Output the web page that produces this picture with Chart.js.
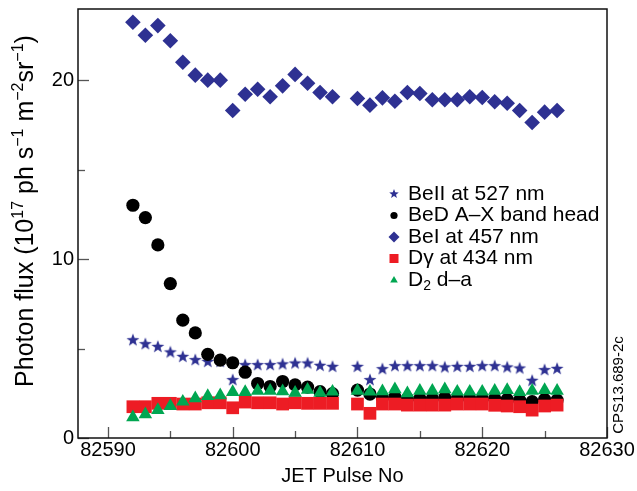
<!DOCTYPE html>
<html>
<head>
<meta charset="utf-8">
<script src="https://cdn.jsdelivr.net/npm/chart.js@4/dist/chart.umd.min.js"></script>
<style>
  html, body { margin: 0; padding: 0; background: #fff; }
  #wrap { width: 637px; height: 491px; }
</style>
</head>
<body>
<div id="wrap"><canvas id="flux-chart" width="637" height="491"></canvas></div>
<script>
// JET pulse numbers (82609 missing)
const pulses = [82592, 82593, 82594, 82595, 82596, 82597, 82598, 82599, 82600, 82601, 82602, 82603, 82604, 82605, 82606, 82607, 82608,
  82610, 82611, 82612, 82613, 82614, 82615, 82616, 82617, 82618, 82619, 82620, 82621, 82622, 82623, 82624, 82625, 82626];

// Photon flux values, 10^17 ph s^-1 m^-2 sr^-1
const beII527 = [5.47, 5.25, 5.10, 4.79, 4.54, 4.36, 4.26, 4.26, 3.24, 4.08, 4.08, 4.08, 4.12, 4.17, 4.17, 4.04, 3.98,
  3.98, 3.24, 3.85, 4.02, 4.02, 4.02, 4.02, 3.95, 3.98, 3.98, 4.02, 4.02, 3.95, 3.89, 3.20, 3.80, 3.87];
const beDBand = [13.02, 12.33, 10.80, 8.64, 6.59, 5.88, 4.68, 4.36, 4.21, 3.68, 3.05, 2.88, 3.16, 2.97, 2.85, 2.59, 2.48,
  2.68, 2.46, 2.25, 2.30, 2.20, 2.20, 2.20, 2.25, 2.20, 2.20, 2.20, 2.20, 2.16, 2.12, 2.03, 2.16, 2.12];
const beI457 = [23.26, 22.53, 23.07, 22.22, 21.02, 20.30, 20.02, 20.02, 18.32, 19.23, 19.51, 19.09, 19.70, 20.34, 19.85, 19.33, 19.09,
  18.99, 18.62, 19.03, 18.84, 19.33, 19.27, 18.92, 18.92, 18.92, 19.09, 19.05, 18.81, 18.73, 18.32, 17.65, 18.23, 18.32];
const dGamma434 = [1.75, 1.75, 1.94, 1.94, 1.90, 1.90, 1.97, 1.97, 1.69, 2.01, 1.97, 1.97, 1.90, 1.97, 1.94, 1.94, 1.94,
  1.90, 1.38, 1.90, 1.90, 1.84, 1.84, 1.84, 1.84, 1.90, 1.90, 1.90, 1.83, 1.79, 1.75, 1.56, 1.79, 1.84];
const d2da = [1.16, 1.32, 1.56, 1.79, 2.03, 2.22, 2.35, 2.39, 2.57, 2.57, 2.64, 2.64, 2.61, 2.53, 2.70, 2.53, 2.59,
  2.64, 2.59, 2.61, 2.72, 2.50, 2.64, 2.64, 2.72, 2.59, 2.59, 2.59, 2.64, 2.68, 2.57, 2.64, 2.68, 2.64];

// Axis ticks
const xTicks = [82590, 82595, 82600, 82605, 82610, 82615, 82620, 82625, 82630];
const yTicks = [0, 5, 10, 15, 20];

const blue = '#2e3192';
const red = '#ed1c24';
const green = '#00a651';
const font = '"Liberation Sans", Arial, Helvetica, sans-serif';

// Filled five point star, Chart.js 'star' is only an asterisk
function makeStar(size, outer, inner) {
  const c = document.createElement('canvas');
  c.width = size; c.height = size;
  const g = c.getContext('2d');
  g.fillStyle = blue;
  g.beginPath();
  for (let i = 0; i < 10; i++) {
    const r = i % 2 === 0 ? outer : inner;
    const a = -Math.PI / 2 + i * Math.PI / 5;
    const px = size / 2 + r * Math.cos(a);
    const py = size / 2 + r * Math.sin(a);
    if (i === 0) g.moveTo(px, py); else g.lineTo(px, py);
  }
  g.closePath();
  g.fill();
  return c;
}
const bigStar = makeStar(16, 6.8, 2.8);
const smallStar = makeStar(12, 5, 2.1);

function pts(values) {
  return pulses.map((p, i) => ({ x: p, y: values[i] }));
}

// Legend labels (drawn by hand inside plot)
const legendItems = [
  { text: 'BeII at 527 nm', kind: 'star' },
  { text: 'BeD A\u2013X band head', kind: 'circle' },
  { text: 'BeI at 457 nm', kind: 'diamond' },
  { text: 'D\u03b3 at 434 nm', kind: 'square' },
  { text: 'D', sub: '2', rest: ' d\u2013a', kind: 'triangle' }
];

// Draw frame, inward ticks, titles, legend
const decorations = {
  id: 'decorations',
  afterDraw(chart) {
    const ctx = chart.ctx;
    const a = chart.chartArea;
    const xs = chart.scales.x;
    const ys = chart.scales.y;
    ctx.save();

    // ticks pointing into the plot
    ctx.strokeStyle = '#555';
    ctx.lineWidth = 1.3;
    xTicks.forEach(v => {
      const px = Math.round(xs.getPixelForValue(v)) + 0.5;
      const len = v % 10 === 0 ? 11 : 7;
      ctx.beginPath();
      ctx.moveTo(px, a.bottom);
      ctx.lineTo(px, a.bottom - len);
      ctx.stroke();
    });
    yTicks.forEach(v => {
      const py = Math.round(ys.getPixelForValue(v)) + 0.5;
      const len = v % 10 === 0 ? 11 : 7;
      ctx.beginPath();
      ctx.moveTo(a.left, py);
      ctx.lineTo(a.left + len, py);
      ctx.stroke();
    });

    // frame
    ctx.strokeStyle = '#111';
    ctx.lineWidth = 1.5;
    ctx.strokeRect(a.left, a.top, a.right - a.left, a.bottom - a.top);

    // x title
    ctx.fillStyle = '#000';
    ctx.font = '20px ' + font;
    ctx.textAlign = 'center';
    ctx.textBaseline = 'middle';
    ctx.fillText('JET Pulse No', (a.left + a.right) / 2, 476);

    // y title with superscripts
    const parts = [
      ['Photon flux (10', false], ['17', true], [' ph s', false], ['\u22121', true],
      [' m', false], ['\u22122', true], ['sr', false], ['\u22121', true], [')', false]
    ];
    const big = '25px ' + font;
    const small = '16px ' + font;
    let total = 0;
    parts.forEach(p => { ctx.font = p[1] ? small : big; total += ctx.measureText(p[0]).width; });
    ctx.translate(33, 211);
    ctx.rotate(-Math.PI / 2);
    ctx.textAlign = 'left';
    ctx.textBaseline = 'alphabetic';
    let cx = -total / 2;
    parts.forEach(p => {
      ctx.font = p[1] ? small : big;
      ctx.fillText(p[0], cx, p[1] ? -10 : 0);
      cx += ctx.measureText(p[0]).width;
    });
    ctx.setTransform(1, 0, 0, 1, 0, 0);

    // figure id on the right
    ctx.font = '15px ' + font;
    ctx.translate(619, 385);
    ctx.rotate(-Math.PI / 2);
    ctx.textAlign = 'center';
    ctx.textBaseline = 'middle';
    ctx.fillText('CPS13.689-2c', 0, 0);
    ctx.setTransform(1, 0, 0, 1, 0, 0);

    // legend
    const lx = 394;
    const tx = 408;
    let ly = 194;
    legendItems.forEach(item => {
      if (item.kind === 'star') {
        ctx.drawImage(smallStar, lx - 6, ly - 6);
      } else if (item.kind === 'circle') {
        ctx.fillStyle = '#000';
        ctx.beginPath(); ctx.arc(lx, ly, 3.6, 0, Math.PI * 2); ctx.fill();
      } else if (item.kind === 'diamond') {
        ctx.fillStyle = blue;
        ctx.beginPath();
        ctx.moveTo(lx, ly - 5.5); ctx.lineTo(lx + 5.5, ly); ctx.lineTo(lx, ly + 5.5); ctx.lineTo(lx - 5.5, ly);
        ctx.closePath(); ctx.fill();
      } else if (item.kind === 'square') {
        ctx.fillStyle = red;
        ctx.fillRect(lx - 4.5, ly - 4.5, 9, 9);
      } else {
        ctx.fillStyle = green;
        ctx.beginPath();
        ctx.moveTo(lx, ly - 4); ctx.lineTo(lx + 3.8, ly + 2.6); ctx.lineTo(lx - 3.8, ly + 2.6);
        ctx.closePath(); ctx.fill();
      }
      ctx.fillStyle = '#000';
      ctx.font = '21px ' + font;
      ctx.textAlign = 'left';
      ctx.textBaseline = 'middle';
      if (item.sub) {
        ctx.fillText(item.text, tx, ly);
        let w = ctx.measureText(item.text).width;
        ctx.font = '14px ' + font;
        ctx.fillText(item.sub, tx + w, ly + 6);
        w += ctx.measureText(item.sub).width;
        ctx.font = '21px ' + font;
        ctx.fillText(item.rest, tx + w, ly);
      } else {
        ctx.fillText(item.text, tx, ly);
      }
      ly += 21.5;
    });

    ctx.restore();
  }
};

new Chart('flux-chart', {
  type: 'scatter',
  data: {
    datasets: [
      { label: 'BeII at 527 nm', data: pts(beII527), pointStyle: bigStar, order: 5 },
      { label: 'BeD A-X band head', data: pts(beDBand), pointStyle: 'circle', pointRadius: 6.6, backgroundColor: '#000', borderWidth: 0, order: 4 },
      { label: 'BeI at 457 nm', data: pts(beI457), pointStyle: 'rectRot', pointRadius: 7.8, backgroundColor: blue, borderWidth: 0, order: 3 },
      { label: 'Dgamma at 434 nm', data: pts(dGamma434), pointStyle: 'rect', pointRadius: 9, backgroundColor: red, borderWidth: 0, order: 2 },
      { label: 'D2 d-a', data: pts(d2da), pointStyle: 'triangle', pointRadius: 7.8, backgroundColor: green, borderWidth: 0, order: 1 }
    ]
  },
  options: {
    responsive: false,
    animation: false,
    layout: { padding: { left: 0, right: 30, top: 8, bottom: 0 } },
    plugins: { legend: { display: false }, tooltip: { enabled: false } },
    scales: {
      x: {
        type: 'linear',
        min: 82587.6,
        max: 82630,
        afterBuildTicks: s => { s.ticks = xTicks.map(v => ({ value: v })); },
        afterFit: s => { s.height = 53; s.paddingLeft = 0; s.paddingRight = 0; },
        grid: { display: false, drawTicks: false },
        border: { display: false },
        ticks: {
          autoSkip: false, maxRotation: 0, padding: 0, color: '#000',
          font: { family: font, size: 20 },
          callback: v => (v % 10 === 0 ? String(v) : '')
        }
      },
      y: {
        type: 'linear',
        min: 0,
        max: 24,
        afterBuildTicks: s => { s.ticks = yTicks.map(v => ({ value: v })); },
        afterFit: s => { s.width = 78; s.paddingTop = 0; s.paddingBottom = 0; },
        grid: { display: false, drawTicks: false },
        border: { display: false },
        ticks: {
          padding: 4, color: '#000',
          font: { family: font, size: 20 },
          callback: v => (v % 10 === 0 ? String(v) : '')
        }
      }
    }
  },
  plugins: [decorations]
});
</script>
</body>
</html>
